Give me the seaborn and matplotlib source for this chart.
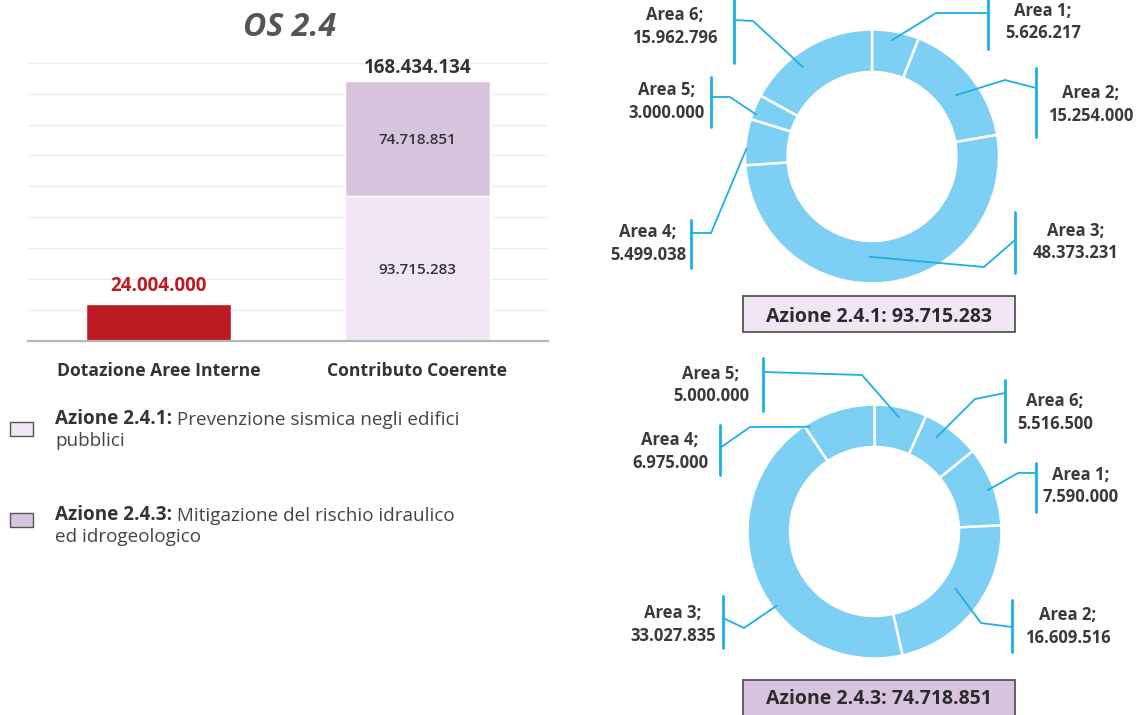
import numpy as np
import pandas as pd
import matplotlib.pyplot as plt
import seaborn as sns
from matplotlib.patches import Rectangle

# Dati del grafico a barre
categorie = ["Dotazione Aree Interne", "Contributo Coerente"]
dotazione = 24004000
azione_241 = 93715283
azione_243 = 74718851
totali = [dotazione, azione_241 + azione_243]
base_lilla = [0, azione_241]

# Dati delle ciambelle (in ordine orario dalle ore 12)
aree_241 = ["Area 1", "Area 2", "Area 3", "Area 4", "Area 5", "Area 6"]
valori_241 = [5626217, 15254000, 48373231, 5499038, 3000000, 15962796]
aree_243 = ["Area 5", "Area 6", "Area 1", "Area 2", "Area 3", "Area 4"]
valori_243 = [5000000, 5516500, 7590000, 16609516, 33027835, 6975000]

titolo = "OS 2.4"
legenda = [("Azione 2.4.1:", " Prevenzione sismica negli edifici", "pubblici"),
           ("Azione 2.4.3:", " Mitigazione del rischio idraulico", "ed idrogeologico")]

# Colori
ROSSO = "#bd1b23"
LILLA_CHIARO = "#f1e6f3"
LILLA_SCURO = "#d9c4df"
AZZURRO = "#7dd0f4"
CIANO = "#1cb0e6"
TESTO = "#333333"


def fmt(v):
    return f"{v:,}".replace(",", ".")


sns.set_theme(style="white")
plt.rcParams['font.family'] = ['Open Sans', 'DejaVu Sans']

W, H = 1138, 715
fig = plt.figure(figsize=(W / 100, H / 100), dpi=100)

# ---- Barre ----
ax = fig.add_axes([28 / W, 1 - 341 / H, 520 / W, 278.3 / H])
df = pd.DataFrame({"cat": categorie, "tot": totali, "base": base_lilla})
sns.barplot(data=df, x="cat", y="tot", hue="cat", palette=[ROSSO, LILLA_SCURO],
            width=0.56, saturation=1, legend=False, ax=ax, zorder=2)
sns.barplot(data=df, x="cat", y="base", color=LILLA_CHIARO, width=0.56,
            saturation=1, ax=ax, zorder=2)
ax.set_ylim(0, 180e6)
ax.set_xlim(-0.505, 1.505)
ax.set_yticks(np.arange(0, 181e6, 20e6))
ax.set_yticklabels([])
ax.yaxis.grid(True, color="#eeeeee", lw=1)
ax.set_axisbelow(True)
ax.set_xlabel("")
ax.set_ylabel("")
for s in ["top", "right", "left"]:
    ax.spines[s].set_visible(False)
ax.spines["bottom"].set_color("#b5b5b5")
ax.spines["bottom"].set_linewidth(1.6)
ax.tick_params(axis="x", length=0, pad=15)
ax.tick_params(axis="y", length=0)
for lab in ax.get_xticklabels():
    lab.set_fontsize(12.6)
    lab.set_fontweight("bold")
    lab.set_color(TESTO)

ax.annotate(fmt(dotazione), (0, dotazione), xytext=(0, 9.5), textcoords="offset points",
            ha="center", va="baseline", fontsize=13.5, fontweight="bold", color=ROSSO)
ax.annotate(fmt(totali[1]), (1, totali[1]), xytext=(0, 5.3), textcoords="offset points",
            ha="center", va="baseline", fontsize=13.5, fontweight="bold", color=TESTO)
ax.text(1, azione_241 / 2, fmt(azione_241), ha="center", va="center_baseline",
        fontsize=11, fontweight="semibold", color=TESTO)
ax.text(1, azione_241 + azione_243 / 2, fmt(azione_243), ha="center", va="center_baseline",
        fontsize=11, fontweight="semibold", color=TESTO)

fig.text(290 / W, 1 - 28 / H, titolo, ha="center", va="center", fontsize=23,
         fontweight="bold", style="italic", color="#555555")

# ---- Sovrapposizione: legenda e ciambelle (coordinate in pixel, y verso l'alto) ----
axo = fig.add_axes([0, 0, 1, 1])


def Y(y):
    return H - y


# legenda
quadrati = [(428.5, LILLA_CHIARO), (520, LILLA_SCURO)]
basi = [(424, 446), (520, 542)]
for (cy, col), (b1, b2), (grassetto, resto, riga2) in zip(quadrati, basi, legenda):
    axo.add_patch(Rectangle((10, Y(cy) - 7), 23, 14, fc=col, ec="#555555", lw=1))
    t = axo.text(55, Y(b1), grassetto, ha="left", va="baseline", fontsize=13.6,
                 fontweight="bold", color=TESTO)
    axo.annotate(resto, xy=(1, 0), xycoords=t, ha="left", va="bottom",
                 fontsize=13.6, color="#444444")
    axo.text(55, Y(b2), riga2, ha="left", va="baseline", fontsize=13.6, color="#444444")

# layout etichette: gomito (x, y), asta x, asta y0-y1, aggancio y, testo (x, y),
# (raggio relativo, scarto angolare) del punto d'attacco sulla ciambella
layout_241 = {
    "Area 1": ((936, 13), 988, (-5, 49), 13, (1043, 22), (0.93, 1)),
    "Area 2": ((1005, 80), 1036, (68, 137), 88, (1091, 104.5), (0.82, -3)),
    "Area 3": ((984, 267), 1015, (212, 273), 240, (1076, 242), (0.79, -8)),
    "Area 4": ((711, 233), 691, (220, 268), 233, (648, 243.5), (0.99, 3)),
    "Area 5": ((730, 97), 711, (77, 127), 97, (667, 101.5), (0.97, 3)),
    "Area 6": ((753, 21), 734, (-5, 63), 20, (675, 26.5), (0.89, 7)),
}
layout_243 = {
    "Area 5": ((862, 375), 763, (358, 411), 372, (711, 385), (0.92, 0)),
    "Area 6": ((975, 399), 1005, (380, 442), 393, (1055, 412.5), (0.89, 4)),
    "Area 1": ((1018, 473), 1036, (463, 512), 473, (1081, 486), (0.95, -1)),
    "Area 2": ((981, 623), 1012, (600, 652), 627, (1068, 626.5), (0.78, 2)),
    "Area 3": ((744, 628), 723, (596, 648), 618, (673, 624.5), (0.97, 14)),
    "Area 4": ((750, 427), 720, (425, 475), 448, (670, 451.5), (0.97, 15)),
}

ciambelle = [
    (aree_241, valori_241, layout_241, (872, 156.5), "Azione 2.4.1: " + fmt(azione_241),
     LILLA_CHIARO, (296, 332)),
    (aree_243, valori_243, layout_243, (874.5, 531.5), "Azione 2.4.3: " + fmt(azione_243),
     LILLA_SCURO, (680, 717)),
]
R = 127
for aree, valori, layout, (cx, cy), testo_box, col_box, (by0, by1) in ciambelle:
    axo.pie(valori, radius=R, center=(cx, Y(cy)), startangle=90, counterclock=False,
            colors=[AZZURRO] * len(valori),
            wedgeprops=dict(width=R * 0.335, edgecolor="white", linewidth=1.8))
    tot = sum(valori)
    cum = np.cumsum([0] + valori[:-1])
    for area, v, c in zip(aree, valori, cum):
        (ex, ey), bx, (y0, y1), jy, (tx, ty), (rf, da) = layout[area]
        ang = np.deg2rad(90 - 360 * (c + v / 2) / tot + da)
        sx, sy = cx + rf * R * np.cos(ang), Y(cy) + rf * R * np.sin(ang)
        axo.plot([sx, ex, bx], [sy, Y(ey), Y(jy)], color=CIANO, lw=1.3, zorder=3)
        axo.plot([bx, bx], [Y(y0), Y(y1)], color=CIANO, lw=2, zorder=3)
        axo.text(tx, Y(ty), f"{area};\n{fmt(v)}", ha="center", va="center",
                 fontsize=12, fontweight="bold", color="#3a3a3a", linespacing=1.3)
    axo.add_patch(Rectangle((743, Y(by1)), 272, by1 - by0, fc=col_box, ec="#555555", lw=1.3))
    axo.text(879, Y((by0 + min(by1, 712)) / 2), testo_box, ha="center", va="center_baseline",
             fontsize=14, fontweight="bold", color="#2b2b2b")

axo.set_xlim(0, W)
axo.set_ylim(0, H)
axo.set_aspect("auto")
axo.axis("off")

fig.savefig("out.png", dpi=100)
